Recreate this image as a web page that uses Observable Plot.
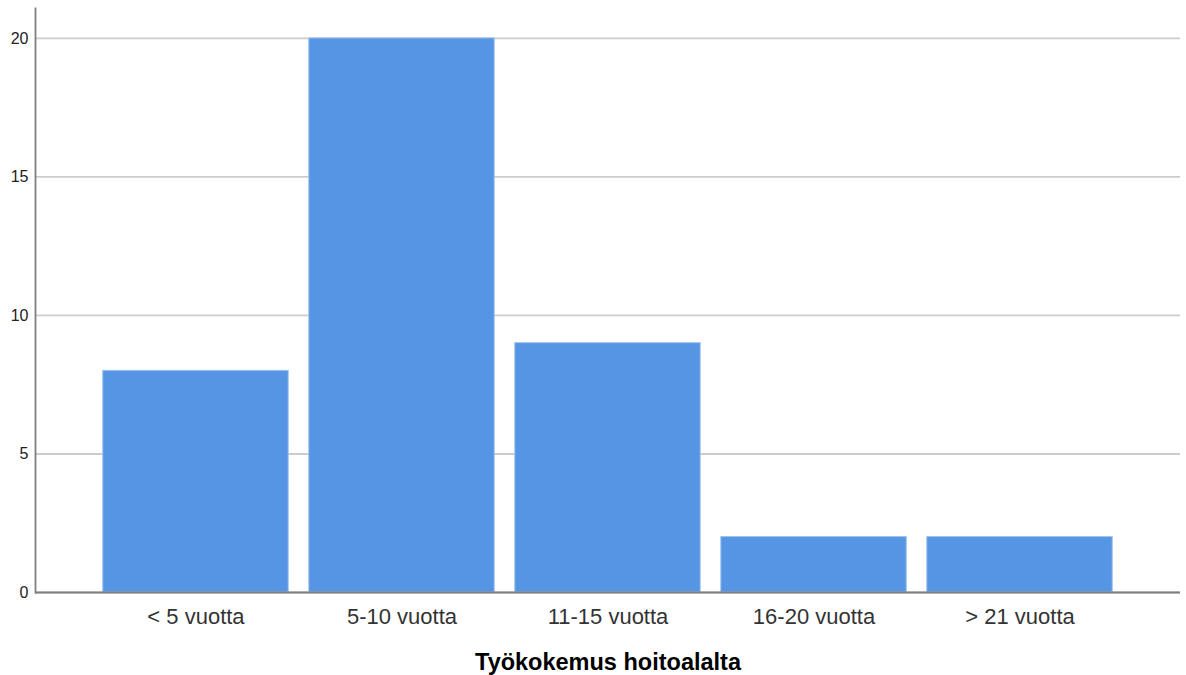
<!DOCTYPE html>
<html>
<head>
<meta charset="utf-8">
<script src="https://cdn.jsdelivr.net/npm/d3@7"></script>
<script src="https://cdn.jsdelivr.net/npm/@observablehq/plot@0.6"></script>
<style>
  html, body { margin: 0; padding: 0; background: #fff; }
  #chart svg { display: block; }
</style>
</head>
<body>
<div id="chart"></div>
<script>
const categories = ["< 5 vuotta", "5-10 vuotta", "11-15 vuotta", "16-20 vuotta", "> 21 vuotta"];
const counts = [8, 20, 9, 2, 2];
const yTicks = [0, 5, 10, 15, 20];
const xTitle = "Työkokemus hoitoalalta";

const data = categories.map((c, i) => ({category: c, count: counts[i]}));

const chart = Plot.plot({
  width: 1186,
  height: 675,
  marginLeft: 35,
  marginRight: 6,
  marginTop: 8,
  marginBottom: 83,
  style: {fontFamily: "'Liberation Sans', Arial, sans-serif", background: "#fff", color: "#222"},
  x: {domain: categories, paddingInner: 0.1, paddingOuter: 0.329, round: false, label: null},
  y: {domain: [0, 21.08], label: null},
  marks: [
    Plot.gridY(yTicks, {stroke: "#cccccc", strokeOpacity: 1, strokeWidth: 1.8}),
    Plot.barY(data, {x: "category", y: "count", fill: "#5595e3", stroke: "#9cc0ef", strokeWidth: 1, inset: 0}),
    Plot.ruleY([0], {stroke: "#7f7f7f", strokeWidth: 1.8}),
    Plot.frame({anchor: "left", stroke: "#7f7f7f", strokeWidth: 1.8}),
    Plot.axisY(yTicks, {tickSize: 0, tickPadding: 7, fontSize: 16, fill: "#222", label: null}),
    Plot.axisX({tickSize: 0, tickPadding: 16, fontSize: 22, fill: "#333", label: null}),
    Plot.text([xTitle], {text: d => d, frameAnchor: "bottom", dy: 77, lineAnchor: "bottom", fontSize: 23.5, fontWeight: "bold", fill: "#000"})
  ]
});
document.getElementById("chart").appendChild(chart);
</script>
</body>
</html>
